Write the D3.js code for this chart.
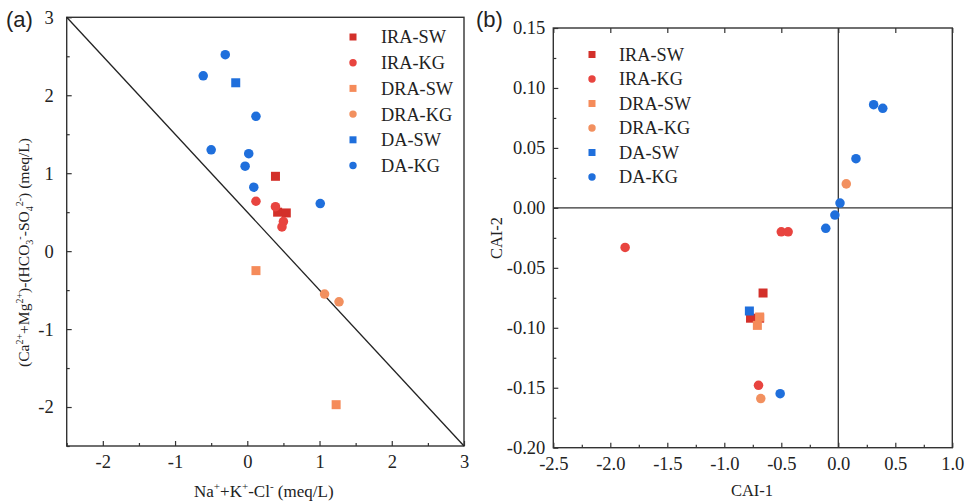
<!DOCTYPE html>
<html>
<head>
<meta charset="utf-8">
<script src="https://cdn.jsdelivr.net/npm/d3@7"></script>
<style>
  html, body { margin: 0; padding: 0; background: #fff; }
  svg { display: block; }
</style>
</head>
<body>
<svg id="chart" width="965" height="502"></svg>
<script>
// Series (legend order)
const seriesNames = ["IRA-SW", "IRA-KG", "DRA-SW", "DRA-KG", "DA-SW", "DA-KG"];
const seriesShapes = ["square", "circle", "square", "circle", "square", "circle"];
const seriesColors = ["#d3302a", "#e8443f", "#f58b5a", "#f2905f", "#1f6fdc", "#1f6fdc"];

// Panel (a): Na+ + K+ - Cl- (x) vs (Ca2+ + Mg2+) - (HCO3- - SO42-) (y), meq/L
const iraSwA = [[0.39, 0.96], [0.42, 0.50], [0.54, 0.49]];
const iraKgA = [[0.12, 0.64], [0.39, 0.57], [0.50, 0.38], [0.48, 0.31]];
const draSwA = [[0.12, -0.25], [1.23, -1.97]];
const draKgA = [[1.07, -0.55], [1.27, -0.65]];
const daSwA = [[-0.16, 2.16]];
const daKgA = [[-0.305, 2.52], [-0.61, 2.25], [0.12, 1.73], [-0.50, 1.30], [0.02, 1.25], [-0.03, 1.09], [0.09, 0.82], [1.01, 0.61]];

// Panel (b): chloro-alkaline indices CAI-1 (x) vs CAI-2 (y)
const iraSwB = [[-0.66, -0.071], [-0.77, -0.092], [-0.69, -0.092]];
const iraKgB = [[-1.87, -0.033], [-0.50, -0.020], [-0.44, -0.020], [-0.70, -0.148]];
const draSwB = [[-0.69, -0.091], [-0.71, -0.098]];
const draKgB = [[0.07, 0.020], [-0.68, -0.159]];
const daSwB = [[-0.78, -0.086]];
const daKgB = [[0.31, 0.086], [0.39, 0.083], [0.155, 0.041], [0.015, 0.004], [-0.03, -0.006], [-0.11, -0.017], [-0.51, -0.155]];

// Axis ticks
const ticksAX = [-2, -1, 0, 1, 2, 3];
const ticksAY = [-2, -1, 0, 1, 2, 3];
const ticksBX = [-2.5, -2.0, -1.5, -1.0, -0.5, 0.0, 0.5, 1.0];
const ticksBY = [-0.20, -0.15, -0.10, -0.05, 0.00, 0.05, 0.10, 0.15];

const seriesA = [iraSwA, iraKgA, draSwA, draKgA, daSwA, daKgA];
const seriesB = [iraSwB, iraKgB, draSwB, draKgB, daSwB, daKgB];

const svg = d3.select("#chart");
const SERIF = '"Liberation Serif", "Times New Roman", serif';
const SANS = '"Liberation Sans", Arial, sans-serif';

// plain hyphen for negative numbers
const fmt = spec => d => d3.format(spec)(d).replace("\u2212", "-");

function drawMarker(g, shape, color, cx, cy, size) {
  if (shape === "square") {
    g.append("rect").attr("x", cx - size / 2).attr("y", cy - size / 2)
      .attr("width", size).attr("height", size).attr("fill", color);
  } else {
    g.append("circle").attr("cx", cx).attr("cy", cy).attr("r", size * 0.53).attr("fill", color);
  }
}

// Text with super/subscript pieces: [text, "sup"|"sub"|undefined]
function richText(sel, parts, fontSize) {
  let shift = 0;
  parts.forEach(([t, kind]) => {
    const target = kind === "sup" ? -0.42 * fontSize : kind === "sub" ? 0.28 * fontSize : 0;
    sel.append("tspan")
      .attr("dy", target - shift)
      .attr("font-size", kind ? fontSize * 0.65 : fontSize)
      .text(t);
    shift = target;
  });
}

function styleAxis(sel) {
  sel.attr("font-family", null).attr("font-size", null);
  sel.selectAll("text")
    .style("font-family", SERIF).style("font-size", "18.5px").style("fill", "#222");
  sel.selectAll("line").attr("stroke", "#333").attr("stroke-width", 1.2);
}

function panel(opts) {
  const { xDomain, yDomain, xRange, yRange, xMajor, xMinor, yMajor, yMinor, xFmt, yFmt, topTicks } = opts;
  const x = d3.scaleLinear().domain(xDomain).range(xRange);
  const y = d3.scaleLinear().domain(yDomain).range(yRange);
  const g = svg.append("g");

  // Bottom axis
  const bx = g.append("g").attr("transform", `translate(0,${yRange[0]})`)
    .call(d3.axisBottom(x).tickValues(xMajor).tickSize(-5).tickPadding(9).tickFormat(xFmt));
  bx.append("g").call(d3.axisBottom(x).tickValues(xMinor).tickSize(-3).tickFormat(""));
  styleAxis(bx);
  // Left axis
  const ly = g.append("g").attr("transform", `translate(${xRange[0]},0)`)
    .call(d3.axisLeft(y).tickValues(yMajor).tickSize(-5).tickPadding(opts.yPad).tickFormat(yFmt));
  ly.append("g").call(d3.axisLeft(y).tickValues(yMinor).tickSize(-3).tickFormat(""));
  styleAxis(ly);
  if (topTicks) {
    const tx = g.append("g").attr("transform", `translate(0,${yRange[1]})`)
      .call(d3.axisTop(x).tickValues(xMajor).tickSize(-5).tickFormat(""));
    styleAxis(tx);
  }
  g.selectAll(".domain").remove();

  // Frame
  g.append("rect").attr("x", xRange[0]).attr("y", yRange[1])
    .attr("width", xRange[1] - xRange[0]).attr("height", yRange[0] - yRange[1])
    .attr("fill", "none").attr("stroke", "#333").attr("stroke-width", 1.4);

  return { g, x, y };
}

// ---------- Panel (a) ----------
const A = panel({
  xDomain: [-2.5, 3], yDomain: [-2.5, 3],
  xRange: [66.7, 464], yRange: [446, 17.3],
  xMajor: ticksAX, xMinor: [-2.5, -1.5, -0.5, 0.5, 1.5, 2.5],
  yMajor: ticksAY, yMinor: [-2.5, -1.5, -0.5, 0.5, 1.5, 2.5],
  xFmt: fmt("d"), yFmt: fmt("d"), yPad: 13, topTicks: false
});
// 1:1 line  y = -x
A.g.append("line")
  .attr("x1", A.x(-2.5)).attr("y1", A.y(3)).attr("x2", A.x(3)).attr("y2", A.y(-2.5))
  .attr("stroke", "#222").attr("stroke-width", 1.3);

seriesA.forEach((pts, i) => {
  pts.forEach(([vx, vy]) => drawMarker(A.g, seriesShapes[i], seriesColors[i], A.x(vx), A.y(vy), 9));
});

// ---------- Panel (b) ----------
const B = panel({
  xDomain: [-2.5, 1.0], yDomain: [-0.20, 0.15],
  xRange: [553.3, 952.3], yRange: [447.7, 28],
  xMajor: ticksBX, xMinor: d3.range(-2.25, 1.0, 0.5),
  yMajor: ticksBY, yMinor: d3.range(-0.175, 0.15, 0.05),
  xFmt: fmt(".1f"), yFmt: fmt(".2f"), yPad: 8, topTicks: true
});
B.g.append("line").attr("x1", B.x(0)).attr("x2", B.x(0)).attr("y1", B.y(0.15)).attr("y2", B.y(-0.20))
  .attr("stroke", "#333").attr("stroke-width", 1.3);
B.g.append("line").attr("x1", B.x(-2.5)).attr("x2", B.x(1.0)).attr("y1", B.y(0)).attr("y2", B.y(0))
  .attr("stroke", "#333").attr("stroke-width", 1.3);

seriesB.forEach((pts, i) => {
  pts.forEach(([vx, vy]) => drawMarker(B.g, seriesShapes[i], seriesColors[i], B.x(vx), B.y(vy), 9));
});

// ---------- Legends ----------
function legend(x0, y0, step, textX) {
  const lg = svg.append("g");
  seriesNames.forEach((name, i) => {
    const cy = y0 + i * step;
    drawMarker(lg, seriesShapes[i], seriesColors[i], x0, cy, 7);
    lg.append("text").attr("x", textX).attr("y", cy).attr("dy", "0.35em")
      .attr("font-family", SERIF).attr("font-size", 18.3).attr("fill", "#222").text(name);
  });
}
legend(353, 37, 25.7, 381);
legend(592, 54.5, 24.5, 619);

// ---------- Titles and panel letters ----------
svg.append("text").attr("x", 6).attr("y", 27).attr("font-family", SANS).attr("font-size", 22)
  .attr("fill", "#222").text("(a)");
svg.append("text").attr("x", 476).attr("y", 27).attr("font-family", SANS).attr("font-size", 22)
  .attr("fill", "#222").text("(b)");

const xtA = svg.append("text").attr("x", 194).attr("y", 497)
  .attr("font-family", SERIF).attr("font-size", 17).attr("fill", "#222");
richText(xtA, [["Na"], ["+", "sup"], ["+K"], ["+", "sup"], ["-Cl"], ["-", "sup"], [" (meq/L)"]], 17);

const ytA = svg.append("text").attr("transform", "translate(29,367) rotate(-90)")
  .attr("font-family", SERIF).attr("font-size", 15.5).attr("fill", "#222");
richText(ytA, [["(Ca"], ["2+", "sup"], ["+Mg"], ["2+", "sup"], [")-(HCO"], ["3", "sub"], ["-", "sup"],
  ["-SO"], ["4", "sub"], ["2-", "sup"], [") (meq/L)"]], 15.5);

svg.append("text").attr("x", 752).attr("y", 496).attr("text-anchor", "middle")
  .attr("font-family", SERIF).attr("font-size", 16.5).attr("fill", "#222").text("CAI-1");
svg.append("text").attr("transform", "translate(502,238) rotate(-90)").attr("text-anchor", "middle")
  .attr("font-family", SERIF).attr("font-size", 16.5).attr("fill", "#222").text("CAI-2");
</script>
</body>
</html>
